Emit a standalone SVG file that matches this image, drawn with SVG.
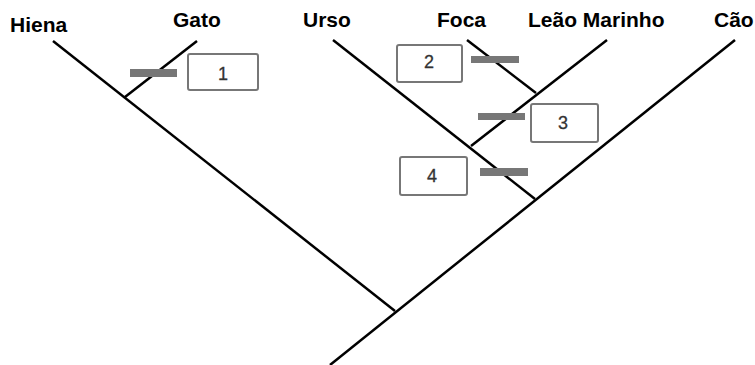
<svg xmlns="http://www.w3.org/2000/svg" width="755" height="365" viewBox="0 0 755 365">
<style>
.lbl{font-family:"Liberation Sans",Arial,sans-serif;font-weight:bold;font-size:21px;fill:#000}
.br{stroke:#000;stroke-width:2.5;fill:none;stroke-linecap:butt}
.bar{fill:#777}
.box{fill:#fff;stroke:#777;stroke-width:2}
.num{font-family:"Liberation Sans",Arial,sans-serif;font-size:18px;fill:#333;stroke:#333;stroke-width:0.3;text-anchor:middle}
</style>
<rect width="755" height="365" fill="#fff"/>
<g id="labels">
<text class="lbl" x="10" y="32">Hiena</text>
<text class="lbl" x="173" y="27">Gato</text>
<text class="lbl" x="303" y="27">Urso</text>
<text class="lbl" x="437" y="27">Foca</text>
<text class="lbl" x="528" y="27">Leão Marinho</text>
<text class="lbl" x="714" y="27">Cão</text>
</g>
<g id="connectors">
<line class="br" x1="53" y1="41" x2="395" y2="311"/>
<line class="br" x1="197" y1="41" x2="125" y2="97"/>
<line class="br" x1="735" y1="40" x2="330" y2="365"/>
<line class="br" x1="333" y1="40" x2="535" y2="199"/>
<line class="br" x1="467" y1="40" x2="536" y2="93"/>
<line class="br" x1="607" y1="40" x2="471" y2="146"/>
</g>
<g id="char1">
<rect class="bar" x="130" y="69" width="47" height="8"/>
<rect class="box" x="188" y="54" width="70" height="36" rx="2"/>
<text class="num" x="223" y="80">1</text>
</g>
<g id="char2">
<rect class="bar" x="471" y="56" width="48" height="7"/>
<rect class="box" x="397" y="45" width="65" height="37" rx="2"/>
<text class="num" x="429" y="68">2</text>
</g>
<g id="char3">
<rect class="bar" x="478" y="113" width="47" height="7"/>
<rect class="box" x="531" y="104" width="67" height="38" rx="2"/>
<text class="num" x="563" y="129">3</text>
</g>
<g id="char4">
<rect class="bar" x="480" y="168" width="48" height="8"/>
<rect class="box" x="400" y="157" width="67" height="38" rx="2"/>
<text class="num" x="432" y="182">4</text>
</g>
</svg>
